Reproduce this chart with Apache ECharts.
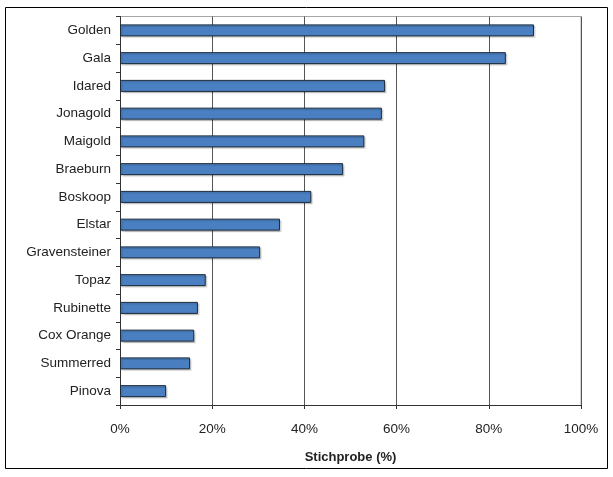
<!DOCTYPE html>
<html>
<head>
<meta charset="utf-8">
<script src="https://cdn.jsdelivr.net/npm/echarts@6/dist/echarts.min.js"></script>
<style>
  html, body { margin: 0; padding: 0; background: #fff; }
  #main { width: 613px; height: 477px; }
</style>
</head>
<body>
<div id="main"></div>
<script>
// Sorten, von oben nach unten
var sorten = ['Golden', 'Gala', 'Idared', 'Jonagold', 'Maigold', 'Braeburn', 'Boskoop',
    'Elstar', 'Gravensteiner', 'Topaz', 'Rubinette', 'Cox Orange', 'Summerred', 'Pinova'];
var stichprobe = [89.8, 83.7, 57.5, 56.8, 53.0, 48.4, 41.5, 34.7, 30.4, 18.6, 16.9, 16.1, 15.2, 10.0];
var xTicks = [0, 20, 40, 60, 80, 100];

var myChart = echarts.init(document.getElementById('main'));
var option = {
    animation: false,
    textStyle: { fontFamily: 'Liberation Sans, Arial, sans-serif' },
    graphic: [{
        type: 'rect',
        shape: { x: 5.5, y: 7.5, width: 602, height: 461 },
        style: { fill: 'none', stroke: '#000', lineWidth: 1 },
        z: -1
    }, {
        // rahmen oben/rechts
        type: 'polyline',
        shape: { points: [[120, 16.5], [581, 16.5], [581, 405]] },
        style: { stroke: '#a6a6a6', lineWidth: 1, fill: 'none' }
    }],
    grid: { left: 120, right: 32, top: 16.5, bottom: 72 },
    xAxis: {
        type: 'value',
        min: 0,
        max: 100,
        interval: 20,
        name: 'Stichprobe (%)',
        nameLocation: 'middle',
        nameGap: 46,
        nameTextStyle: { fontSize: 13, fontWeight: 'bold', color: '#222' },
        axisLine: { show: true, lineStyle: { color: '#333', width: 1 } },
        axisTick: { show: true, length: 4, inside: false, lineStyle: { color: '#333' } },
        axisLabel: {
            fontSize: 13.5, color: '#222', margin: 17,
            formatter: function (v) { return xTicks.indexOf(v) >= 0 ? v + '%' : ''; }
        },
        splitLine: { show: true, lineStyle: { color: '#555', width: 1 } }
    },
    yAxis: {
        type: 'category',
        data: sorten,
        inverse: true,
        axisLine: { show: true, lineStyle: { color: '#333', width: 1 } },
        axisTick: { show: true, length: 4, lineStyle: { color: '#333' } },
        axisLabel: { fontSize: 13.5, color: '#222', margin: 9 },
        splitLine: { show: false }
    },
    series: [{
        type: 'bar',
        data: stichprobe,
        barWidth: 12,
        itemStyle: {
            color: '#4a80c2',
            borderColor: '#1c2a3a',
            borderWidth: 1,
            shadowColor: 'rgba(0,0,0,0.18)',
            shadowOffsetX: 1.5,
            shadowOffsetY: 1.5,
            shadowBlur: 1
        }
    }]
};
myChart.setOption(option);
</script>
</body>
</html>
